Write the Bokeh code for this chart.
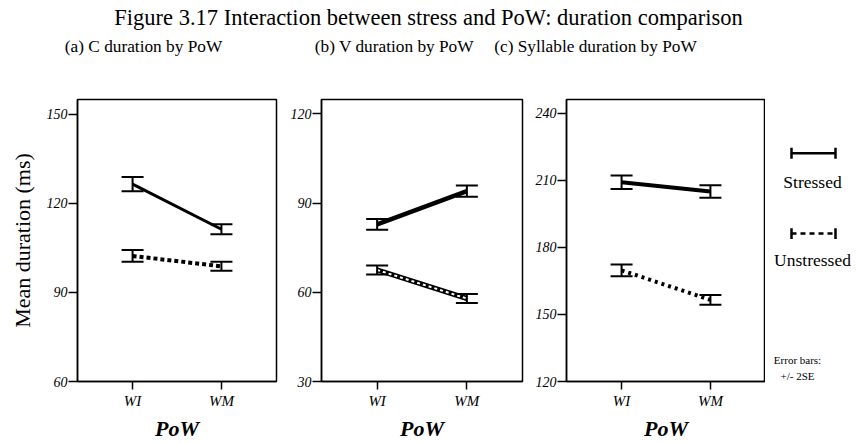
from bokeh.plotting import figure
from bokeh.models import Range1d, FixedTicker, Whisker, ColumnDataSource, TeeHead
from bokeh.layouts import column, row
from bokeh.core.properties import value
from bokeh.embed import file_html
from bokeh.resources import INLINE

SERIF = "Liberation Serif"

# ---- data ----
pow_levels = ["WI", "WM"]
pow_x = [1, 2]

c_stressed_mean = [126.5, 111.3]
c_stressed_err = [2.4, 1.7]
c_unstressed_mean = [102.3, 98.8]
c_unstressed_err = [2.0, 1.5]

v_stressed_mean = [82.8, 94.0]
v_stressed_err = [1.8, 1.9]
v_unstressed_mean = [67.5, 57.9]
v_unstressed_err = [1.5, 1.5]

s_stressed_mean = [209.1, 205.0]
s_stressed_err = [3.0, 2.8]
s_unstressed_mean = [169.7, 156.5]
s_unstressed_err = [2.6, 2.2]

c_ticks = [60, 90, 120, 150]
v_ticks = [30, 60, 90, 120]
s_ticks = [120, 150, 180, 210, 240]

main_title = "Figure 3.17 Interaction between stress and PoW: duration comparison"
sub_titles = ["(a) C duration by PoW", "(b) V duration by PoW", "(c) Syllable duration by PoW"]
y_label = "Mean duration (ms)"
x_label = "PoW"
legend_labels = ["Stressed", "Unstressed"]
note_lines = ["Error bars:", "+/- 2SE"]

TITLE_H = 92
ROW_H = 351
TOP = 7
BOTTOM = 58


def make_panel(width, left, right, yr, ticks,
               st_mean, st_err, un_mean, un_err, st_width, un_style, ylabel=None):
    p = figure(width=width, height=ROW_H, output_backend="svg", toolbar_location=None,
               x_range=Range1d(0.38, 2.62), y_range=Range1d(*yr),
               min_border_left=left, min_border_right=right,
               min_border_top=TOP, min_border_bottom=BOTTOM,
               background_fill_color="white", border_fill_color="white")
    p.grid.visible = False
    p.outline_line_color = "black"
    p.outline_line_width = 1.5
    p.outline_line_alpha = 1.0

    for ax in (p.xaxis[0], p.yaxis[0]):
        ax.axis_line_color = "black"
        ax.axis_line_width = 1.5
        ax.major_tick_line_color = "black"
        ax.major_tick_line_width = 1.5
        ax.major_tick_in = 0
        ax.minor_tick_line_color = None
        ax.major_label_text_font = SERIF
        ax.major_label_text_font_style = "italic"
        ax.major_label_text_color = "black"
    p.xaxis.ticker = FixedTicker(ticks=pow_x)
    p.xaxis.major_label_overrides = {x: lab for x, lab in zip(pow_x, pow_levels)}
    p.xaxis.major_label_text_font_size = "15px"
    p.xaxis.major_tick_out = 8
    p.xaxis.major_label_standoff = 3
    p.xaxis.axis_label = x_label
    p.xaxis.axis_label_text_font = SERIF
    p.xaxis.axis_label_text_font_style = "bold italic"
    p.xaxis.axis_label_text_font_size = "22px"
    p.xaxis.axis_label_text_color = "black"
    p.xaxis.axis_label_standoff = 4

    p.yaxis.ticker = FixedTicker(ticks=ticks)
    p.yaxis.major_label_text_font_size = "14px"
    p.yaxis.major_tick_out = 9
    p.yaxis.major_label_standoff = 1
    if ylabel:
        p.yaxis.axis_label = ylabel
        p.yaxis.axis_label_text_font = SERIF
        p.yaxis.axis_label_text_font_style = "normal"
        p.yaxis.axis_label_text_font_size = "22px"
        p.yaxis.axis_label_text_color = "black"
        p.yaxis.axis_label_standoff = 9

    # stressed
    p.line(pow_x, st_mean, line_color="black", line_width=st_width)
    # unstressed
    if un_style == "hatched":
        p.line(pow_x, un_mean, line_color="black", line_width=5)
        p.line(pow_x, un_mean, line_color="white", line_width=2, line_dash="3 3")
    else:
        p.line(pow_x, un_mean, line_color="black", line_width=4, line_dash=un_style)

    for m, e in ((st_mean, st_err), (un_mean, un_err)):
        src = ColumnDataSource(dict(x=pow_x,
                                    upper=[a + b for a, b in zip(m, e)],
                                    lower=[a - b for a, b in zip(m, e)]))
        w = Whisker(source=src, base="x", upper="upper", lower="lower",
                    line_color="black", line_width=2,
                    upper_head=TeeHead(size=22, line_width=2, line_color="black"),
                    lower_head=TeeHead(size=22, line_width=2, line_color="black"),
                    level="overlay")
        p.add_layout(w)
    return p


fa = make_panel(281, 77, 5, (60, 155), c_ticks,
                c_stressed_mean, c_stressed_err, c_unstressed_mean, c_unstressed_err,
                3, "4 3", ylabel=y_label)
fb = make_panel(246, 40, 5, (30, 124.8), v_ticks,
                v_stressed_mean, v_stressed_err, v_unstressed_mean, v_unstressed_err,
                4.5, "hatched")
fc = make_panel(238, 39, 0, (120, 246.1), s_ticks,
                s_stressed_mean, s_stressed_err, s_unstressed_mean, s_unstressed_err,
                4, "3 4")

# ---- legend panel (window-pixel coordinates over the frame area) ----
fl = figure(width=91, height=ROW_H, output_backend="svg", toolbar_location=None,
            x_range=Range1d(765, 856),
            y_range=Range1d(TITLE_H + ROW_H - BOTTOM, TITLE_H + TOP),
            x_axis_location=None, y_axis_location=None,
            min_border_left=0, min_border_right=0, min_border_top=TOP, min_border_bottom=BOTTOM,
            background_fill_color="white", border_fill_color="white")
fl.grid.visible = False
fl.outline_line_color = None
icon_y = [153.5, 235]
icon_dash = ["solid", "5 4"]
for yy, dash in zip(icon_y, icon_dash):
    fl.segment(x0=[791], y0=[yy], x1=[835], y1=[yy], line_color="black", line_width=2.5, line_dash=dash)
    fl.segment(x0=[791, 835], y0=[yy - 5.5] * 2, x1=[791, 835], y1=[yy + 5.5] * 2,
               line_color="black", line_width=2.5)
fl.text(x=[812, 812], y=[183, 262], text=legend_labels, text_font=value(SERIF),
        text_font_size="17.5px", text_align="center", text_baseline="middle", text_color="black")
fl.text(x=[797, 797], y=[363, 379], text=note_lines, text_font=value(SERIF),
        text_font_size="11px", text_align="center", text_baseline="middle", text_color="black")

# ---- title strip ----
ft = figure(width=856, height=TITLE_H, output_backend="svg", toolbar_location=None,
            x_range=Range1d(0, 856), y_range=Range1d(TITLE_H, 0),
            x_axis_location=None, y_axis_location=None,
            min_border=0, background_fill_color="white", border_fill_color="white")
ft.grid.visible = False
ft.outline_line_color = None
ft.text(x=[428], y=[17], text=[main_title], text_font=value(SERIF), text_font_size="22.5px",
        text_align="center", text_baseline="middle", text_color="black")
ft.text(x=[143, 394, 595], y=[46, 46, 46], text=sub_titles, text_font=value(SERIF),
        text_font_size="17.3px", text_align="center", text_baseline="middle", text_color="black")

layout = column(ft, row(fa, fb, fc, fl, spacing=0), spacing=0)

open("out.html", "w").write(file_html(layout, INLINE))
